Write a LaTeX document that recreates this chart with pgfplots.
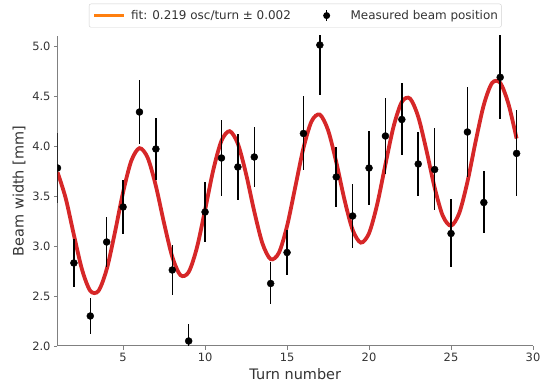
\documentclass[border=0pt]{standalone}
\usepackage{fontspec}
\setmainfont{DejaVu Sans}
\usepackage{pgfplots}
\usepackage{pgfplotstable}
\pgfplotsset{compat=1.18}
\definecolor{fitred}{HTML}{D62728}
\definecolor{fitorange}{HTML}{FF7F0E}
\definecolor{txt}{HTML}{333333}
\definecolor{spine}{HTML}{808080}

\pgfplotstableread{
x y e
1 3.78 0.35
2 2.83 0.24
3 2.30 0.18
4 3.04 0.25
5 3.39 0.27
6 4.34 0.32
7 3.97 0.31
8 2.76 0.25
9 2.05 0.17
10 3.34 0.30
11 3.88 0.38
12 3.79 0.33
13 3.89 0.30
14 2.625 0.21
15 2.935 0.225
16 4.125 0.37
17 5.01 0.50
18 3.69 0.30
19 3.30 0.32
20 3.78 0.37
21 4.10 0.38
22 4.265 0.36
23 3.82 0.32
24 3.765 0.41
25 3.125 0.34
26 4.14 0.45
27 3.435 0.31
28 4.687 0.42
29 3.926 0.43
}\measured

\pgfplotstableread{
x y
1 3.7389
1.5 3.4778
2 3.1108
2.5 2.7625
3 2.5514
3.5 2.5513
4 2.7672
4.5 3.1340
5 3.5375
5.5 3.8513
6 3.9784
6.5 3.8826
7 3.6001
7.5 3.2280
8 2.8924
8.5 2.7078
9 2.7392
9.5 2.9817
10 3.3612
10.5 3.7595
11 4.0519
11.5 4.1483
12 4.0226
12.5 3.7206
13 3.3458
13.5 3.0253
14 2.8685
14.5 2.9315
15 3.1989
15.5 3.5888
16 3.9793
16.5 4.2485
17 4.3138
17.5 4.1590
18 3.8397
18.5 3.4648
19 3.1615
19.5 3.0336
20 3.1278
20.5 3.4186
21 3.8163
21.5 4.1967
22 4.4410
22.5 4.4748
23 4.2921
23.5 3.9576
24 3.5852
24.5 3.3012
25 3.2031
25.5 3.3281
26 3.6404
26.5 4.0435
27 4.4114
27.5 4.6293
28 4.6314
28.5 4.4222
29 4.0748
}\fitcurve

\begin{document}
\begin{tikzpicture}
\begin{axis}[
  scale only axis, width=475.5bp, height=310bp,
  xmin=1, xmax=30, ymin=2, ymax=5.1,
  axis x line*=bottom, axis y line*=left,
  axis line style={spine, line width=1bp},
  xtick={5,10,...,30}, ytick={2,2.5,...,5},
  yticklabel style={/pgf/number format/fixed, /pgf/number format/fixed zerofill, /pgf/number format/precision=1},
  /pgf/number format/assume math mode=true,
  tick align=outside, major tick length=3.5bp,
  tick style={spine, line width=0.8bp},
  ticklabel style={font=\fontsize{11.5}{13}\selectfont, text=txt},
  label style={font=\fontsize{14.5}{17}\selectfont, text=txt},
  xlabel={Turn number}, ylabel={Beam width [mm]},
  legend columns=2,
  legend style={at={(0.5,1)}, anchor=south, yshift=8.5bp, draw=black!18, rounded corners=2bp,
    font=\fontsize{12}{14}\selectfont, text=txt,
    inner xsep=3.5bp, inner ysep=5.45bp,
    nodes={inner sep=0pt, text height=10bp, text depth=1.4bp},
    /tikz/every odd column/.append style={column sep=5.5bp},
    /tikz/every even column/.append style={column sep=24.7bp}},
  clip=true, clip marker paths=true,
]
\addlegendimage{legend image code/.code={\draw[fitorange, line width=3.5bp] (0bp,0bp) -- (29.5bp,0bp);}}
\addlegendentry{fit: 0.219 osc/turn ± 0.002}
\addlegendimage{legend image code/.code={\path[draw=none, fill=none] (0bp,0bp) rectangle (29.5bp,0.1bp); \draw[black, line width=1.5bp] (11bp,-5.5bp) -- (11bp,5.5bp); \fill[black, draw=none] (11bp,0bp) circle (3.5bp);}}
\addlegendentry{Measured beam position}

\addplot[fitred, line width=3.8bp, smooth, forget plot] table[x=x, y=y] {\fitcurve};
\addplot[only marks, mark=*, mark size=3.5bp, black, forget plot,
  error bars/.cd, y dir=both, y explicit, error mark=none,
  error bar style={line width=1.5bp, black}]
  table[x=x, y=y, y error=e] {\measured};
\end{axis}
\pgfresetboundingbox
\path (-57.5bp,-38bp) rectangle (484.5bp,346bp);
\end{tikzpicture}
\end{document}
